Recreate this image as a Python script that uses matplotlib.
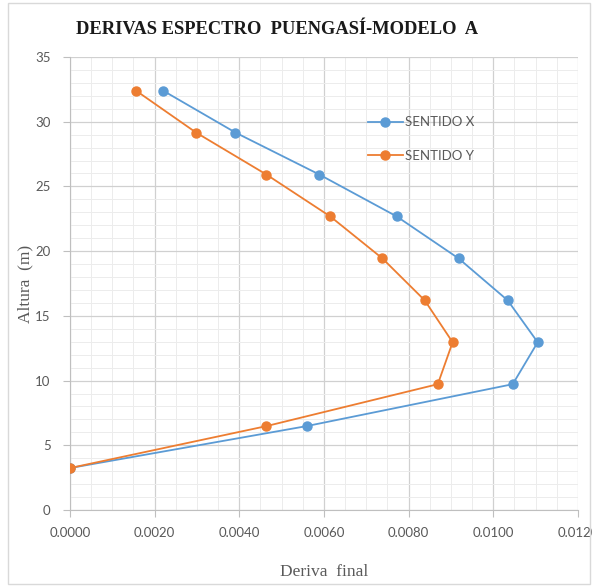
import matplotlib
matplotlib.use("Agg")
import matplotlib.pyplot as plt
from matplotlib.patches import Rectangle
from matplotlib.ticker import MultipleLocator, FormatStrFormatter

# Story heights (m) and final drifts per direction
altura = [3.24, 6.48, 9.72, 12.96, 16.20, 19.44, 22.68, 25.92, 29.16, 32.40]
deriva_x = [0.0000, 0.00559, 0.01046, 0.01105, 0.01034, 0.00918, 0.00772, 0.00589, 0.00391, 0.00220]
deriva_y = [0.0000, 0.00464, 0.00869, 0.00904, 0.00838, 0.00738, 0.00615, 0.00464, 0.00298, 0.00156]

series = [
    ("SENTIDO X", deriva_x, "#5B9BD5"),
    ("SENTIDO Y", deriva_y, "#ED7D31"),
]

grey = "#595959"
fig = plt.figure(figsize=(5.92, 5.87), dpi=100)
ax = fig.add_axes([0.1182, 0.1312, 0.858, 0.7717])

# chart-area border
fig.patches.append(Rectangle((0.013, 0.005), 0.984, 0.99, transform=fig.transFigure,
                             fill=False, edgecolor="#d9d9d9", linewidth=1))

for label, xs, col in series:
    ax.plot(xs, altura, color=col, linewidth=1.3, marker="o", markersize=6.5,
            label=label, zorder=3)

ax.set_xlim(0, 0.012)
ax.set_ylim(0, 35)
ax.xaxis.set_major_locator(MultipleLocator(0.002))
ax.xaxis.set_minor_locator(MultipleLocator(0.0005))
ax.yaxis.set_major_locator(MultipleLocator(5))
ax.yaxis.set_minor_locator(MultipleLocator(1))
ax.xaxis.set_major_formatter(FormatStrFormatter("%.4f"))

ax.grid(True, which="major", color="#d0d0d0", linewidth=0.9)
ax.grid(True, which="minor", color="#ececec", linewidth=0.7)
ax.set_axisbelow(True)

for s in ["top", "right"]:
    ax.spines[s].set_visible(False)
for s in ["left", "bottom"]:
    ax.spines[s].set_color("#bfbfbf")

ax.tick_params(which="major", length=5, color="#bfbfbf", labelcolor=grey,
               labelsize=9.5)
ax.tick_params(axis="x", which="major", pad=7)
ax.tick_params(axis="y", which="major", pad=9)
ax.tick_params(which="minor", length=0)
for t in ax.get_xticklabels() + ax.get_yticklabels():
    t.set_fontfamily("Lato")

ax.set_xlabel("Deriva  final", family="Liberation Serif", fontsize=12.5, color=grey, labelpad=18)
ax.set_ylabel("Altura  (m)", family="Liberation Serif", fontsize=12.5, color=grey)
ax.yaxis.set_label_coords(-0.073, 0.5)

fig.text(0.468, 0.950, "DERIVAS ESPECTRO  PUENGASÍ-MODELO  A", family="Liberation Serif",
         fontweight="bold", fontsize=13.3, ha="center", va="center", color="#1a1a1a")

leg = ax.legend(loc="upper left", bbox_to_anchor=(0.564, 0.895), frameon=False,
                prop={"family": "Lato", "size": 9.5}, labelspacing=1.6,
                handlelength=2.6, handletextpad=0.2)
for t in leg.get_texts():
    t.set_color(grey)

fig.savefig("out.png", dpi=100)
